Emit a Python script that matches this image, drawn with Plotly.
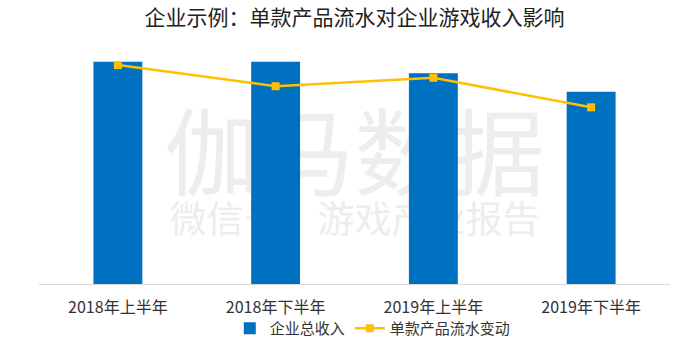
import plotly.graph_objects as go

categories = ["2018年上半年", "2018年下半年", "2019年上半年", "2019年下半年"]
revenue = [100, 100, 94.8, 86.5]          # 企业总收入 (relative)
single_product = [98.5, 89.0, 92.8, 79.5]  # 单款产品流水变动 (relative)

title_text = "企业示例：单款产品流水对企业游戏收入影响"
bar_name = "企业总收入"
line_name = "单款产品流水变动"
wm_main = "伽马数据"
wm_sub = "微信号：游戏产业报告"

FONT = "Noto Sans CJK SC, Noto Sans, sans-serif"

fig = go.Figure()
fig.add_trace(go.Bar(
    x=categories, y=revenue, name=bar_name,
    marker=dict(color="#0070C0", line=dict(width=0)),
))
fig.add_trace(go.Scatter(
    x=categories, y=single_product, name=line_name, mode="lines+markers",
    line=dict(color="#FFC000", width=2.5),
    marker=dict(symbol="square", size=8, color="#FFC000"),
))

# watermark, drawn beneath the traces
fig.add_shape(type="rect", xref="paper", yref="paper", x0=0, x1=1, y0=0.32, y1=0.72,
              layer="below", line=dict(width=0), fillcolor="rgba(0,0,0,0)",
              label=dict(text=wm_main, font=dict(size=95, color="#EDEDED", family=FONT),
                         textposition="middle center"))
fig.add_shape(type="rect", xref="paper", yref="paper", x0=0, x1=1, y0=0.16, y1=0.36,
              layer="below", line=dict(width=0), fillcolor="rgba(0,0,0,0)",
              label=dict(text=wm_sub, font=dict(size=37, color="#EDEDED", family=FONT),
                         textposition="middle center"))

fig.update_layout(
    width=700, height=350,
    margin=dict(l=39, r=30, t=50, b=66, autoexpand=False),
    paper_bgcolor="white", plot_bgcolor="white",
    font=dict(family=FONT, color="#333333"),
    title=dict(text=title_text, x=0.5, xref="paper", xanchor="center",
               y=0.95, yanchor="middle", yref="container",
               font=dict(size=21, color="#222222", family=FONT)),
    bargap=0.69,
    showlegend=True,
    legend=dict(orientation="h", x=0.529, xanchor="center", y=-0.19, yanchor="middle",
                font=dict(size=15, color="#333333", family=FONT),
                itemwidth=30, bgcolor="rgba(0,0,0,0)"),
    xaxis=dict(showline=True, linecolor="#D9D9D9", linewidth=1,
               ticks="outside", ticklen=9, tickcolor="rgba(0,0,0,0)",
               tickfont=dict(size=16, color="#333333", family=FONT), showgrid=False),
    yaxis=dict(range=[0, 105.3], visible=False, showgrid=False, zeroline=False),
)

fig.write_html("out.html")
